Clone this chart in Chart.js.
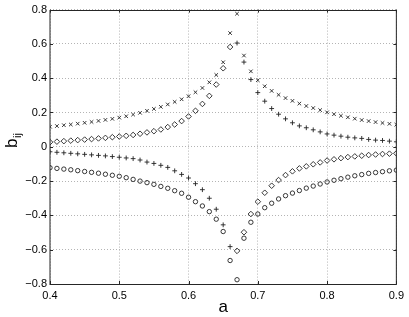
<!DOCTYPE html>
<html>
<head>
<meta charset="utf-8">
<script src="https://cdn.jsdelivr.net/npm/chart.js@4/dist/chart.umd.min.js"></script>
<style>
  body { margin: 0; background: #fff; }
  canvas { display: block; }
</style>
</head>
<body>
<canvas id="grafico" width="409" height="317"></canvas>
<script>
// valores, a de 0.40 a 0.90
const aVals = [0.40, 0.41, 0.42, 0.43, 0.44, 0.45, 0.46, 0.47, 0.48, 0.49,
  0.50, 0.51, 0.52, 0.53, 0.54, 0.55, 0.56, 0.57, 0.58, 0.59,
  0.60, 0.61, 0.62, 0.63, 0.64, 0.65, 0.66, 0.67, 0.68, 0.69,
  0.70, 0.71, 0.72, 0.73, 0.74, 0.75, 0.76, 0.77, 0.78, 0.79,
  0.80, 0.81, 0.82, 0.83, 0.84, 0.85, 0.86, 0.87, 0.88, 0.89, 0.90];

const serieX = [0.117, 0.121, 0.126, 0.130, 0.135, 0.140, 0.145, 0.151, 0.157, 0.163,
  0.170, 0.178, 0.188, 0.198, 0.210, 0.221, 0.233, 0.247, 0.262, 0.277,
  0.295, 0.318, 0.343, 0.376, 0.419, 0.493, 0.663, 0.776, 0.532, 0.440,
  0.388, 0.353, 0.326, 0.303, 0.284, 0.268, 0.252, 0.238, 0.226, 0.214,
  0.201, 0.190, 0.181, 0.172, 0.164, 0.156, 0.150, 0.144, 0.139, 0.134, 0.129];

const serieLosango = [0.027, 0.030, 0.033, 0.036, 0.039, 0.042, 0.045, 0.049, 0.052, 0.056,
  0.060, 0.064, 0.069, 0.076, 0.084, 0.091, 0.101, 0.115, 0.130, 0.150,
  0.177, 0.210, 0.250, 0.297, 0.363, 0.458, 0.582, -0.607, -0.498, -0.392,
  -0.320, -0.268, -0.227, -0.194, -0.165, -0.143, -0.126, -0.114, -0.102, -0.091,
  -0.080, -0.073, -0.066, -0.060, -0.056, -0.052, -0.048, -0.045, -0.042, -0.040, -0.038];

const serieMais = [-0.029, -0.032, -0.035, -0.038, -0.041, -0.044, -0.047, -0.050, -0.053, -0.057,
  -0.061, -0.065, -0.069, -0.077, -0.089, -0.097, -0.108, -0.120, -0.140, -0.161,
  -0.182, -0.215, -0.250, -0.300, -0.364, -0.455, -0.582, 0.605, 0.494, 0.392,
  0.316, 0.266, 0.223, 0.190, 0.163, 0.140, 0.122, 0.111, 0.099, 0.087,
  0.075, 0.068, 0.062, 0.056, 0.052, 0.049, 0.043, 0.039, 0.037, 0.033, 0.029];

const serieCirculo = [-0.122, -0.126, -0.130, -0.134, -0.139, -0.144, -0.149, -0.154, -0.160, -0.166,
  -0.172, -0.180, -0.190, -0.200, -0.209, -0.219, -0.231, -0.242, -0.256, -0.271,
  -0.294, -0.320, -0.345, -0.378, -0.422, -0.494, -0.663, -0.775, -0.533, -0.440,
  -0.392, -0.355, -0.329, -0.304, -0.285, -0.270, -0.255, -0.241, -0.229, -0.217,
  -0.205, -0.195, -0.186, -0.177, -0.169, -0.162, -0.155, -0.150, -0.145, -0.140, -0.136];

const xTicks = ['0.4', '0.5', '0.6', '0.7', '0.8', '0.9'];
const yTicks = ['\u22120.8', '\u22120.6', '\u22120.4', '\u22120.2', '0', '0.2', '0.4', '0.6', '0.8'];

const pontos = ys => aVals.map((a, i) => ({ x: a, y: ys[i] }));

const cor = '#222';

function serie(ys, estilo, raio) {
  return {
    data: pontos(ys),
    pointStyle: estilo,
    pointRadius: raio,
    pointBorderWidth: 0.9,
    pointBorderColor: cor,
    pointBackgroundColor: 'rgba(0,0,0,0)',
    showLine: false
  };
}

// moldura, marcas internas e titulos dos eixos
const moldura = {
  id: 'moldura',
  afterDraw(chart) {
    const c = chart.ctx;
    const { left, right, top, bottom } = chart.chartArea;
    const sx = chart.scales.x, sy = chart.scales.y;
    c.save();
    c.strokeStyle = '#262626';
    c.lineWidth = 1;
    c.strokeRect(left, Math.round(top) + 0.5, right - left, Math.round(bottom) - Math.round(top));
    c.beginPath();
    sx.ticks.forEach(t => {
      const px = Math.round(sx.getPixelForValue(t.value)) + 0.5;
      c.moveTo(px, bottom); c.lineTo(px, bottom - 3);
      c.moveTo(px, top); c.lineTo(px, top + 3);
    });
    sy.ticks.forEach(t => {
      const py = Math.round(sy.getPixelForValue(t.value)) + 0.5;
      c.moveTo(left, py); c.lineTo(left + 3, py);
      c.moveTo(right, py); c.lineTo(right - 3, py);
    });
    c.stroke();

    c.fillStyle = '#000';
    c.font = '17px "Liberation Sans", Arial, sans-serif';
    c.textAlign = 'center';
    c.textBaseline = 'alphabetic';
    c.fillText('a', (left + right) / 2, 312);

    c.translate(17, 148);
    c.rotate(-Math.PI / 2);
    c.textAlign = 'left';
    c.fillText('b', 0, 0);
    const wb = c.measureText('b').width;
    c.font = '11px "Liberation Sans", Arial, sans-serif';
    c.fillText('ij', wb + 0.5, 4);
    c.restore();
  }
};

const ctx = document.getElementById('grafico');
new Chart(ctx, {
  type: 'scatter',
  data: {
    datasets: [
      serie(serieX, 'crossRot', 2.5),
      serie(serieLosango, 'rectRot', 2.8),
      serie(serieMais, 'cross', 2.4),
      serie(serieCirculo, 'circle', 2.2)
    ]
  },
  options: {
    responsive: false,
    animation: false,
    layout: { padding: { left: 0, top: 9, right: 12, bottom: 0 } },
    plugins: { legend: { display: false }, tooltip: { enabled: false } },
    scales: {
      x: {
        type: 'linear',
        min: 0.4,
        max: 0.9,
        afterFit: s => { s.height = 33; },
        grid: { color: '#b4b4b4', lineWidth: 1, drawTicks: false },
        border: { display: false, dash: [1, 2] },
        ticks: {
          stepSize: 0.1,
          padding: 5,
          color: '#000',
          font: { family: '"Liberation Sans", Arial, sans-serif', size: 11 },
          callback: (v, i) => xTicks[i]
        }
      },
      y: {
        min: -0.8,
        max: 0.8,
        afterFit: s => { s.width = 50; },
        grid: { color: '#b4b4b4', lineWidth: 1, drawTicks: false },
        border: { display: false, dash: [1, 2] },
        ticks: {
          stepSize: 0.2,
          padding: 3,
          color: '#000',
          font: { family: '"Liberation Sans", Arial, sans-serif', size: 11 },
          callback: (v, i) => yTicks[i]
        }
      }
    }
  },
  plugins: [moldura]
});
</script>
</body>
</html>
